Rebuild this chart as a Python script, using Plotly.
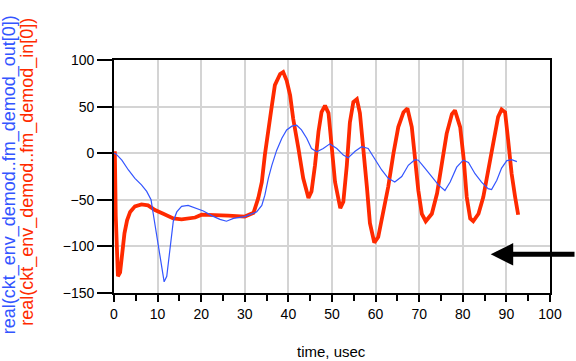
import plotly.graph_objects as go

# time axis (usec) and values for fm_demod_in (red)
in_time = [0, 0.2, 0.4, 0.9, 1.4, 1.9, 2.4, 3.0, 3.7, 4.8, 6.3, 7.8, 9.4, 11.3, 13.6, 15.5,
           18.6, 20.1, 23.2, 26.2, 30.0, 32.0, 33.1, 33.9, 34.6, 35.4, 36.2, 36.9, 38.1, 38.8,
           39.6, 40.4, 41.1, 42.3, 43.4, 44.6, 45.3, 46.1, 46.9, 47.6, 48.4, 49.2, 49.9, 50.7,
           51.9, 52.6, 53.4, 54.1, 54.9, 55.7, 56.4, 57.2, 58.0, 58.7, 59.7, 60.6, 61.8, 62.9,
           64.1, 65.2, 66.4, 67.3, 68.3, 69.0, 69.8, 70.6, 71.5, 72.9, 74.1, 75.2, 76.3, 77.5,
           78.2, 79.4, 80.2, 80.9, 81.7, 82.4, 83.6, 84.7, 85.8, 87.0, 88.1, 88.9, 89.7, 90.4,
           91.2, 92.0, 92.7]
in_vals = [0, 0, -67, -132, -128, -104, -86, -72, -63, -57, -55, -56, -61, -65, -70, -71,
           -69, -66, -66, -67, -68, -64, -48, -31, -2, 27, 51, 73, 85, 87,
           78, 62, 37, 5, -27, -48, -41, -13, 23, 44, 51, 43, 12, -31,
           -59, -52, -13, 33, 55, 58, 43, 7, -36, -75, -96, -90, -64, -36,
           0, 28, 44, 48, 28, -7, -40, -65, -73, -65, -43, -11, 21, 42,
           46, 28, -6, -47, -70, -73, -65, -47, -18, 14, 39, 47, 44, 14,
           -22, -47, -66]

# time axis (usec) and values for fm_demod_out (blue)
out_time = [0, 0.5, 1.8, 3.3, 4.8, 6.3, 7.5, 8.5, 9.0, 9.8, 10.6, 11.1, 11.5, 12.1, 12.6,
            13.1, 13.6, 14.4, 15.5, 17.0, 18.6, 20.5, 22.4, 24.3, 25.8, 27.4, 30.0, 32.7,
            33.9, 34.6, 35.4, 36.2, 37.3, 38.5, 39.6, 40.8, 41.9, 43.0, 44.2, 45.3, 46.5,
            48.0, 49.5, 51.1, 52.6, 53.7, 55.3, 56.8, 58.3, 59.9, 61.4, 62.9, 64.4, 66.0,
            67.5, 69.0, 69.8, 71.3, 72.9, 74.4, 75.9, 77.1, 78.6, 80.1, 81.3, 82.8, 84.3,
            85.8, 86.6, 87.8, 88.9, 90.1, 91.2, 92.4]
out_vals = [0, -1, -7.5, -18, -27, -34, -41, -50, -65, -90, -115, -129, -138, -132, -111,
            -90, -73, -63, -57, -56, -59, -62, -67, -71, -73, -70, -68, -63,
            -56, -45, -27, -13, 3, 16, 25, 29, 30, 25, 16, 5, 1.5,
            5, 10, 5, -2, -5, 2, 7, 5, -7.5, -18, -27, -31, -25,
            -13, -7, -7.5, -16, -25, -34, -40, -31, -15, -7.5, -10, -22, -31,
            -38, -39, -29, -16, -8, -7, -9]

x_ticks = [0, 10, 20, 30, 40, 50, 60, 70, 80, 90, 100]
y_ticks = [-150, -100, -50, 0, 50, 100]

RED = "#ff2a00"
BLUE = "#3355ff"
FONT = "Liberation Sans, Arial, sans-serif"

fig = go.Figure()
fig.add_trace(go.Scatter(x=in_time, y=in_vals, mode="lines",
                         line=dict(color=RED, width=3.8), showlegend=False))
fig.add_trace(go.Scatter(x=out_time, y=out_vals, mode="lines",
                         line=dict(color=BLUE, width=1.2), showlegend=False))

fig.update_layout(
    width=576, height=361, autosize=False,
    margin=dict(l=114, r=26, t=60, b=68),
    paper_bgcolor="white", plot_bgcolor="white",
    font=dict(family=FONT, size=14, color="black"),
)
fig.update_xaxes(range=[0, 100], tickvals=x_ticks, ticks="outside", ticklen=7,
                 tickcolor="black", tickwidth=1.5,
                 minor=dict(dtick=5, ticks="outside", ticklen=6, tickcolor="black",
                            tickwidth=1.5, showgrid=False),
                 showgrid=True, gridcolor="#d4d4d4", gridwidth=1.5,
                 showline=True, linecolor="black", linewidth=1.8, mirror=True,
                 zeroline=False, tickfont=dict(size=14))
fig.update_yaxes(range=[-150, 100], tickvals=y_ticks, ticks="outside", ticklen=15,
                 tickcolor="black", tickwidth=1.5,
                 showgrid=True, gridcolor="#d4d4d4", gridwidth=1.5,
                 showline=True, linecolor="black", linewidth=1.8, mirror=True,
                 zeroline=False, tickfont=dict(size=14))

fig.add_annotation(text="time, usec", xref="paper", yref="paper", x=0.498, y=0,
                   xanchor="center", yanchor="middle", yshift=-58, showarrow=False,
                   font=dict(size=15, color="black"))
fig.add_annotation(text="real(ckt_env_demod..fm_demod_out[0])", xref="paper", yref="paper",
                   x=0, y=0.507, xanchor="center", yanchor="middle", xshift=-104.5,
                   textangle=-90, showarrow=False, font=dict(size=18, color=BLUE))
fig.add_annotation(text="real(ckt_env_demod..fm_demod_in[0])", xref="paper", yref="paper",
                   x=0, y=0.52, xanchor="center", yanchor="middle", xshift=-86,
                   textangle=-90, showarrow=False, font=dict(size=18, color=RED))
# arrow pointing left at right edge
fig.add_annotation(x=86.4, y=-108.5, xref="x", yref="y", ax=90, ay=0, axref="pixel",
                   ayref="pixel", text="", showarrow=True, arrowhead=2, arrowsize=0.9,
                   arrowwidth=5, arrowcolor="black")

fig.write_html("out.html", config={"displayModeBar": False},
               post_script="document.body.style.margin='0';document.body.style.overflow='hidden';")
